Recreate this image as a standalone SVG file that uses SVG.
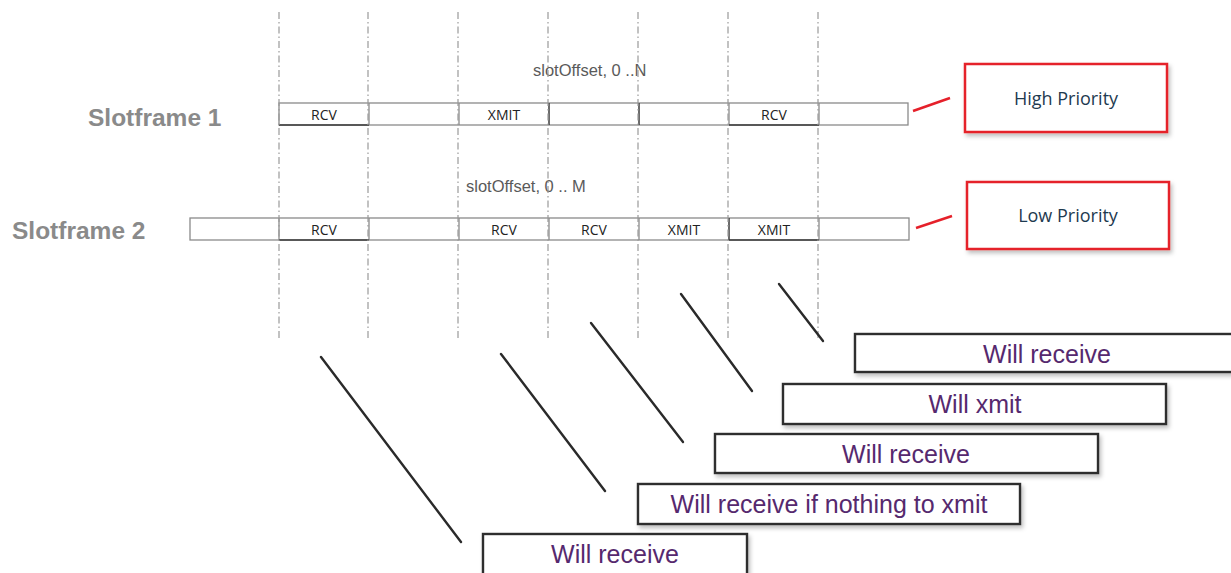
<svg xmlns="http://www.w3.org/2000/svg" width="1231" height="573" viewBox="0 0 1231 573">
<style>
.guide{stroke:#9a9a9a;stroke-width:1.2;stroke-dasharray:7 3 1.5 3;fill:none}
.row{fill:#fff;stroke:#8a8a8a;stroke-width:1.3}
.div{stroke:#8a8a8a;stroke-width:1.3}
.dark{stroke:#3a3a3a;stroke-width:1.5}
.cell{font-family:"Open Sans","Liberation Sans",sans-serif;font-size:14px;fill:#222;text-anchor:middle}
.sf{font-family:"Liberation Sans",Arial,sans-serif;font-weight:bold;font-size:24.5px;fill:#8a8a8a}
.off{font-family:"Liberation Sans",Arial,sans-serif;font-size:16.5px;fill:#5a5a5a}
.prio{fill:#fff;stroke:#e5202a;stroke-width:2.5}
.ptxt{font-family:"Open Sans","Liberation Sans",sans-serif;font-size:18px;fill:#1e3a50;text-anchor:middle}
.red{stroke:#e5202a;stroke-width:2.5}
.will{fill:#fff;stroke:#2e2e2e;stroke-width:2.4}
.wtxt{font-family:"Liberation Sans",Arial,sans-serif;font-size:25px;fill:#56296e;text-anchor:middle}
.diag{stroke:#2a2a2a;stroke-width:2.4;stroke-linecap:round}
</style>
<defs>
<filter id="sh" x="-5%" y="-20%" width="115%" height="150%">
<feDropShadow dx="2" dy="3" stdDeviation="2" flood-color="#000" flood-opacity="0.25"/>
</filter>
</defs>
<rect width="1231" height="573" fill="#fff"/>

<g id="labels">
<text class="sf" x="88" y="126">Slotframe 1</text>
<text class="sf" x="12" y="239">Slotframe 2</text>
<text class="off" x="533" y="76">slotOffset, 0 ..N</text>
<text class="off" x="466" y="192">slotOffset, 0 .. M</text>
</g>

<g id="slotframe1">
<rect class="row" x="279" y="103" width="629" height="22"/>
<line class="div" x1="369" y1="103" x2="369" y2="125"/>
<line class="div" x1="459" y1="103" x2="459" y2="125"/>
<line class="dark" x1="549" y1="103" x2="549" y2="125"/>
<line class="dark" x1="639" y1="103" x2="639" y2="125"/>
<line class="div" x1="729" y1="103" x2="729" y2="125"/>
<line class="div" x1="819" y1="103" x2="819" y2="125"/>
<line class="dark" x1="279" y1="125" x2="369" y2="125"/>
<line class="dark" x1="729" y1="125" x2="819" y2="125"/>
<text class="cell" x="324" y="120">RCV</text>
<text class="cell" x="504" y="120">XMIT</text>
<text class="cell" x="774" y="120">RCV</text>
</g>

<g id="slotframe2">
<rect class="row" x="190" y="218" width="719" height="22"/>
<line class="div" x1="279" y1="218" x2="279" y2="240"/>
<line class="div" x1="369" y1="218" x2="369" y2="240"/>
<line class="div" x1="459" y1="218" x2="459" y2="240"/>
<line class="div" x1="549" y1="218" x2="549" y2="240"/>
<line class="div" x1="639" y1="218" x2="639" y2="240"/>
<line class="dark" x1="729" y1="218" x2="729" y2="240"/>
<line class="div" x1="819" y1="218" x2="819" y2="240"/>
<line class="dark" x1="279" y1="240" x2="369" y2="240"/>
<line class="dark" x1="729" y1="240" x2="819" y2="240"/>
<text class="cell" x="324" y="235">RCV</text>
<text class="cell" x="504" y="235">RCV</text>
<text class="cell" x="594" y="235">RCV</text>
<text class="cell" x="684" y="235">XMIT</text>
<text class="cell" x="774" y="235">XMIT</text>
</g>

<g id="guides">
<line class="guide" x1="279" y1="12" x2="279" y2="341"/>
<line class="guide" x1="368" y1="12" x2="368" y2="341"/>
<line class="guide" x1="458" y1="12" x2="458" y2="341"/>
<line class="guide" x1="548" y1="12" x2="548" y2="341"/>
<line class="guide" x1="638" y1="12" x2="638" y2="341"/>
<line class="guide" x1="728" y1="12" x2="728" y2="341"/>
<line class="guide" x1="818" y1="12" x2="818" y2="341"/>
</g>

<g id="high-priority">
<rect class="prio" x="965" y="64" width="202" height="68" filter="url(#sh)"/>
<text class="ptxt" x="1066" y="105">High Priority</text>
</g>
<g id="low-priority">
<rect class="prio" x="967" y="182" width="202" height="67" filter="url(#sh)"/>
<text class="ptxt" x="1068" y="222">Low Priority</text>
</g>

<g id="will-receive-1">
<rect class="will" x="855" y="334" width="384" height="38" filter="url(#sh)"/>
<text class="wtxt" x="1047" y="363">Will receive</text>
</g>
<g id="will-xmit">
<rect class="will" x="783" y="384" width="383" height="40" filter="url(#sh)"/>
<text class="wtxt" x="975" y="413">Will xmit</text>
</g>
<g id="will-receive-2">
<rect class="will" x="715" y="434" width="383" height="39" filter="url(#sh)"/>
<text class="wtxt" x="906" y="463">Will receive</text>
</g>
<g id="will-receive-if">
<rect class="will" x="638" y="484" width="382" height="40" filter="url(#sh)"/>
<text class="wtxt" x="829" y="513">Will receive if nothing to xmit</text>
</g>
<g id="will-receive-3">
<rect class="will" x="483" y="534" width="264" height="45" filter="url(#sh)"/>
<text class="wtxt" x="615" y="563">Will receive</text>
</g>

<g id="connectors">
<line class="red" x1="913" y1="111" x2="950" y2="98"/>
<line class="red" x1="916" y1="228" x2="952" y2="216"/>
<line class="diag" x1="321" y1="357" x2="461" y2="542"/>
<line class="diag" x1="501" y1="354" x2="605" y2="491"/>
<line class="diag" x1="591" y1="323" x2="683" y2="442"/>
<line class="diag" x1="681" y1="294" x2="752" y2="391"/>
<line class="diag" x1="779" y1="284" x2="823" y2="341"/>
</g>
</svg>
